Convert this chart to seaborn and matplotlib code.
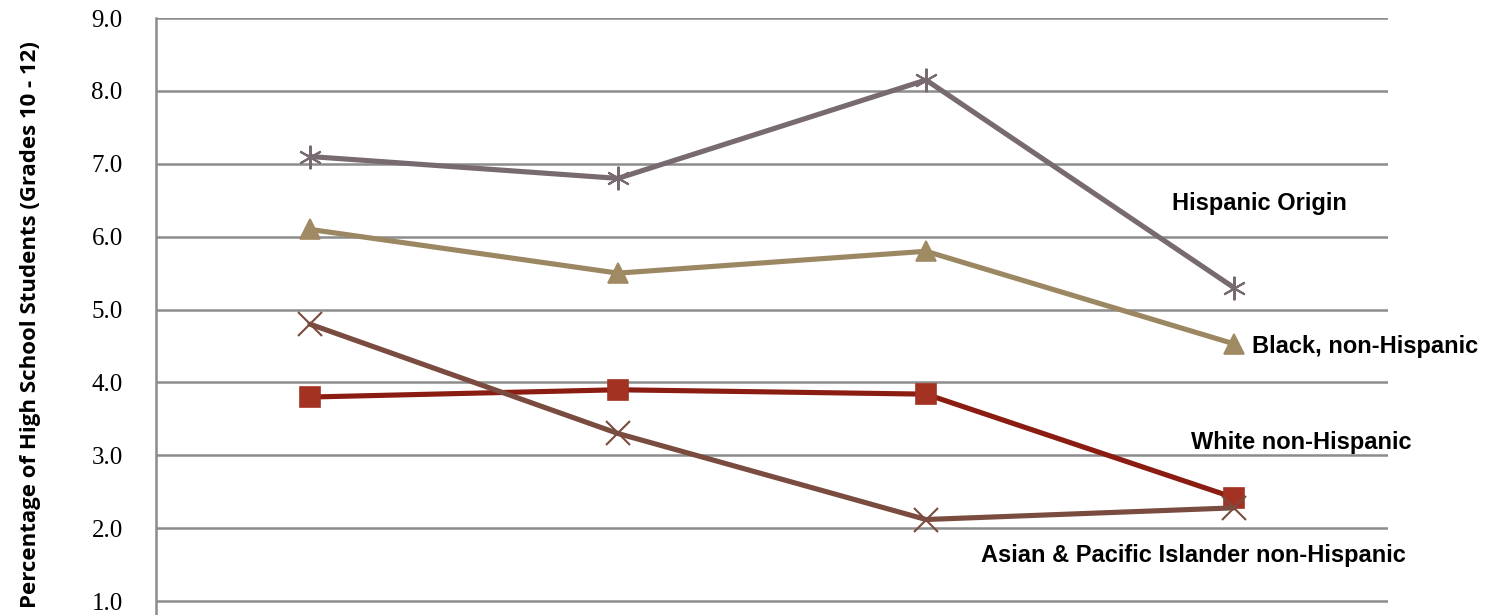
import pandas as pd
import matplotlib.pyplot as plt
import seaborn as sns

# categories (x labels are cropped out of the reference)
periods = ['2001', '2003', '2005', '2007']

hispanic = [7.1, 6.8, 8.15, 5.3]
black = [6.1, 5.5, 5.8, 4.53]
white = [3.8, 3.9, 3.84, 2.42]
asian = [4.8, 3.3, 2.12, 2.28]

names = ['Hispanic Origin', 'Black, non-Hispanic', 'White non-Hispanic',
         'Asian & Pacific Islander non-Hispanic']
series = [hispanic, black, white, asian]
colors = ['#776a70', '#9b8761', '#8a1c12', '#7a4b3f']
marker_colors = ['#776a70', '#a08a63', '#a33222', '#7a4b3f']
markers = [(6, 2, 0), '^', 's', 'x']
label_pos = [(3.30, 6.45), (3.56, 4.49), (3.36, 3.17), (2.68, 1.63)]
yticks = [1, 2, 3, 4, 5, 6, 7, 8, 9]

rows = []
for name, vals in zip(names, series):
    for i, v in enumerate(vals):
        rows.append({'pos': i + 0.5, 'value': v, 'group': name})
df = pd.DataFrame(rows)

sns.set_style('white')
fig = plt.figure(figsize=(14.95, 6.15), dpi=100)
ax = fig.add_axes([156 / 1495, 0.9707 - 1.0667, 1232 / 1495, 1.0667])

for name, col, mcol, mk in zip(names, colors, marker_colors, markers):
    sub = df[df['group'] == name]
    filled = mk in ('^', 's')
    sns.lineplot(data=sub, x='pos', y='value', ax=ax, color=col,
                 linewidth=3.7, marker=mk,
                 markersize=15 if filled else 17,
                 markerfacecolor=mcol, markeredgecolor=mcol,
                 markeredgewidth=1.2 if filled else 1.5, zorder=3)

for name, (x, y) in zip(names, label_pos):
    ax.text(x, y, name, fontsize=17, fontweight='bold', color='black',
            family=['Liberation Sans', 'DejaVu Sans'], va='center', ha='left')

ax.set_xlim(0, 4)
ax.set_ylim(0, 9)
ax.set_yticks(yticks)
ax.set_yticklabels([f'{v:.1f}' for v in yticks],
                   family=['Liberation Serif', 'DejaVu Serif'], fontsize=18,
                   color='black')
ax.set_xticks([])
ax.yaxis.grid(True, color='#8c8c8c', linewidth=1.8)
ax.set_axisbelow(True)
for s in ['top', 'right', 'bottom']:
    ax.spines[s].set_visible(False)
ax.spines['left'].set_color('#8c8c8c')
ax.spines['left'].set_linewidth(1.8)
ax.tick_params(axis='y', length=3, color='#8c8c8c', width=1.5, pad=21)
ax.set_xlabel('')
ax.set_ylabel('Percentage of High School Students (Grades 10 - 12)',
              fontsize=16, fontweight='bold', color='black',
              family=['Open Sans', 'DejaVu Sans'])
ax.yaxis.set_label_coords(-0.093, 0.532)

fig.savefig('out.png', dpi=100)
